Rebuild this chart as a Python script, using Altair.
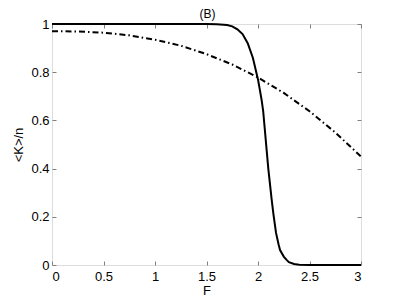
import altair as alt
import pandas as pd

# solid curve
F_solid = [0, 0.5, 1.0, 1.5, 1.6, 1.7, 1.75, 1.8, 1.85, 1.9, 1.95, 2.0, 2.035, 2.05, 2.084,
           2.1, 2.133, 2.15, 2.175, 2.2, 2.214, 2.25, 2.28, 2.3, 2.35, 2.4, 2.5, 3.0]
K_solid = [1.0, 1.0, 1.0, 1.0, 0.999, 0.996, 0.99, 0.978, 0.958, 0.92, 0.86, 0.77, 0.685, 0.64, 0.477,
           0.40, 0.27, 0.21, 0.133, 0.085, 0.062, 0.035, 0.02, 0.012, 0.004, 0.001, 0.0, 0.0]

# dash-dot curve
F_dash = [0, 0.25, 0.5, 0.75, 1.0, 1.25, 1.5, 1.75, 2.0, 2.25, 2.5, 2.75, 3.0]
K_dash = [0.970, 0.969, 0.964, 0.953, 0.935, 0.910, 0.875, 0.832, 0.778, 0.714, 0.638, 0.550, 0.450]

x_ticks = [0, 0.5, 1, 1.5, 2, 2.5, 3]
y_ticks = [0, 0.2, 0.4, 0.6, 0.8, 1]
title_text = ["(B)"]

W, H = 309, 241
FONT = "Liberation Sans"
AX = "#808080"

df_s = pd.DataFrame({"F": F_solid, "K": K_solid})
df_d = pd.DataFrame({"F": F_dash, "K": K_dash})
df_t = pd.DataFrame({"t": title_text})

xs = alt.Scale(domain=[0, 3], nice=False, zero=False)
ys = alt.Scale(domain=[0, 1], nice=False, zero=False)

solid = alt.Chart(df_s).mark_line(color="black", strokeWidth=2).encode(
    x=alt.X("F:Q", scale=xs, axis=alt.Axis(
        orient="bottom", values=x_ticks, format="~g", tickSize=0, domain=False, grid=False,
        labelPadding=5, labelFontSize=13, labelColor="black", labelFont=FONT,
        title="F", titleFont=FONT, titleFontSize=13, titleFontWeight="normal",
        titleColor="black", titlePadding=1)),
    y=alt.Y("K:Q", scale=ys, axis=alt.Axis(
        orient="left", values=y_ticks, format="~g", tickSize=0, domain=False, grid=False,
        labelPadding=3, labelFontSize=13, labelColor="black", labelFont=FONT,
        title="<K>/n", titleFont=FONT, titleFontSize=13, titleFontWeight="normal",
        titleColor="black", titlePadding=5)),
)

dash = alt.Chart(df_d).mark_line(color="black", strokeWidth=2, strokeDash=[6, 3, 1.5, 3]).encode(
    x=alt.X("F:Q", scale=xs, axis=alt.Axis(
        orient="top", offset=-H, values=x_ticks, labels=False, tickSize=4, tickColor=AX,
        tickWidth=1, domain=False, grid=False, title=None)),
    y=alt.Y("K:Q", scale=ys, axis=alt.Axis(
        orient="right", offset=-W, values=y_ticks, labels=False, tickSize=4, tickColor=AX,
        tickWidth=1, domain=False, grid=False, title=None)),
)

ghost = alt.Chart(df_d).mark_line(opacity=0).encode(
    x=alt.X("F:Q", scale=xs, axis=alt.Axis(
        orient="bottom", offset=-H, values=x_ticks, labels=False, tickSize=4, tickColor=AX,
        tickWidth=1, domain=False, grid=False, title=None)),
    y=alt.Y("K:Q", scale=ys, axis=alt.Axis(
        orient="left", offset=-W, values=y_ticks, labels=False, tickSize=4, tickColor=AX,
        tickWidth=1, domain=False, grid=False, title=None)),
)

title = alt.Chart(df_t).mark_text(
    font=FONT, fontSize=12, color="black", baseline="middle", align="center"
).encode(x=alt.value(W / 2 + 1), y=alt.value(-10), text="t:N")

chart = alt.layer(solid, dash, ghost, title).resolve_axis(
    x="independent", y="independent"
).properties(
    width=W, height=H,
    autosize=alt.AutoSizeParams(type="none"),
    padding={"left": 44, "top": 16, "right": 30, "bottom": 32},
).configure_view(stroke=AX, strokeWidth=1.2).configure(background="white")

chart.save("out.html", embed_options={"renderer": "svg", "actions": False})
